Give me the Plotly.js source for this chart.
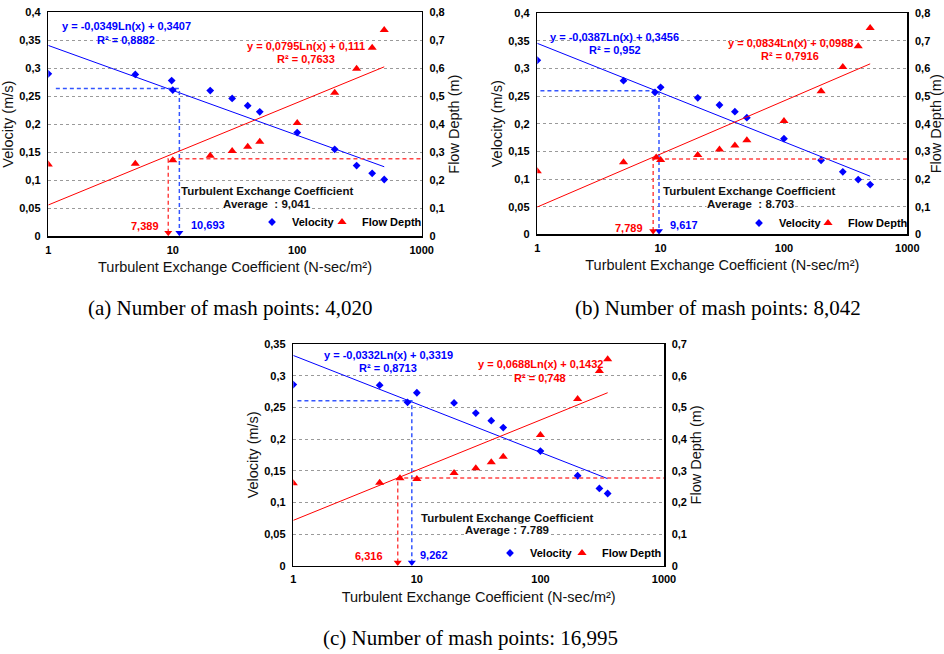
<!DOCTYPE html>
<html>
<head>
<meta charset="utf-8">
<script src="https://cdn.plot.ly/plotly-3.0.1.min.js"></script>
<style>
html,body{margin:0;padding:0;background:#fff;}
#chart{width:944px;height:654px;}
</style>
</head>
<body>
<div id="chart"></div>
<script>
// ---------- Data: panel (a) 4,020 mesh points ----------
const xA_vel = [1, 5, 9.8, 10, 20, 30, 40, 50, 100, 200, 300, 400, 500];
const velA   = [0.290, 0.289, 0.278, 0.261, 0.260, 0.246, 0.233, 0.222, 0.185, 0.155, 0.126, 0.112, 0.101];
const xA_dep = [1, 5, 10, 20, 30, 40, 50, 100, 200, 300, 400, 500];
const depA   = [0.256, 0.258, 0.271, 0.287, 0.304, 0.319, 0.337, 0.404, 0.512, 0.598, 0.673, 0.737];
const trendA_x = [1, 500];
const trendA_vel = [0.3407, 0.1238];
const trendA_dep = [0.111, 0.605];
const guideA_velX = [1.15, 11.3, 11.3];
const guideA_velY = [0.2637, 0.2637, 0.006];
const guideA_depX = [9.2, 9.2, 1000];
const guideA_depY = [0.012, 0.276, 0.276];

// ---------- Data: panel (b) 8,042 mesh points ----------
const xB_vel = [1, 5, 9, 10, 20, 30, 40, 50, 100, 200, 300, 400, 500];
const velB   = [0.315, 0.278, 0.257, 0.266, 0.247, 0.234, 0.222, 0.211, 0.173, 0.134, 0.113, 0.099, 0.090];
const xB_dep = [1, 5, 9.2, 10, 20, 30, 40, 50, 100, 200, 300, 400, 500];
const depB   = [0.228, 0.261, 0.278, 0.269, 0.287, 0.307, 0.321, 0.340, 0.410, 0.518, 0.606, 0.681, 0.747];
const trendB_x = [1, 500];
const trendB_vel = [0.3456, 0.1051];
const trendB_dep = [0.0988, 0.6171];
const guideB_velX = [1.06, 9.7, 9.7];
const guideB_velY = [0.260, 0.260, 0.006];
const guideB_depX = [8.7, 8.7, 1000];
const guideB_depY = [0.012, 0.273, 0.273];

// ---------- Data: panel (c) 16,995 mesh points ----------
const xC_vel = [1, 5, 8.4, 10, 20, 30, 40, 50, 100, 200, 300, 350];
const velC   = [0.286, 0.285, 0.258, 0.273, 0.257, 0.241, 0.229, 0.218, 0.181, 0.142, 0.122, 0.114];
const xC_dep = [1, 5, 7.3, 10, 20, 30, 40, 50, 100, 200, 300, 350];
const depC   = [0.260, 0.262, 0.276, 0.274, 0.293, 0.308, 0.327, 0.344, 0.413, 0.526, 0.615, 0.652];
const trendC_x = [1, 350];
const trendC_vel = [0.3319, 0.1374];
const trendC_dep = [0.1432, 0.5462];
const guideC_velX = [1.08, 9.1, 9.1];
const guideC_velY = [0.2605, 0.2605, 0.005];
const guideC_depX = [7.0, 7.0, 1000];
const guideC_depY = [0.010, 0.2768, 0.2768];

// ---------- Tick labels ----------
const xTickVals = [1, 10, 100, 1000];
const xTickText = ['1', '10', '100', '1000'];
const velTickVals4 = [0, 0.05, 0.1, 0.15, 0.2, 0.25, 0.3, 0.35, 0.4];
const velTickText4 = ['0', '0,05', '0,1', '0,15', '0,2', '0,25', '0,3', '0,35', '0,4'];
const depTickVals8 = [0, 0.1, 0.2, 0.3, 0.4, 0.5, 0.6, 0.7, 0.8];
const depTickText8 = ['0', '0,1', '0,2', '0,3', '0,4', '0,5', '0,6', '0,7', '0,8'];
const velTickVals35 = [0, 0.05, 0.1, 0.15, 0.2, 0.25, 0.3, 0.35];
const velTickText35 = ['0', '0,05', '0,1', '0,15', '0,2', '0,25', '0,3', '0,35'];
const depTickVals7 = [0, 0.1, 0.2, 0.3, 0.4, 0.5, 0.6, 0.7];
const depTickText7 = ['0', '0,1', '0,2', '0,3', '0,4', '0,5', '0,6', '0,7'];

// ---------- Texts ----------
const eqVel = ['y = -0,0349Ln(x) + 0,3407', 'y = -0,0387Ln(x) + 0,3456', 'y = -0,0332Ln(x) + 0,3319'];
const r2Vel = ['R² = 0,8882', 'R² = 0,952', 'R² = 0,8713'];
const eqDep = ['y = 0,0795Ln(x) + 0,111', 'y = 0,0834Ln(x) + 0,0988', 'y = 0,0688Ln(x) + 0,1432'];
const r2Dep = ['R² = 0,7633', 'R² = 0,7916', 'R² = 0,748'];
const depMark = ['7,389', '7,789', '6,316'];
const velMark = ['10,693', '9,617', '9,262'];
const avgText = ['Average  : 9,041', 'Average  : 8.703', 'Average : 7.789'];
const captions = ['(a) Number of mash points: 4,020', '(b) Number of mash points: 8,042', '(c) Number of mash points: 16,995'];

// ---------- Layout helpers (pixel positions) ----------
const W = 944, H = 654;
const px = v => v / W;
const py = v => 1 - v / H;
const BLUE = '#0000ff', RED = '#ff0000';
const FONT = 'Liberation Sans, Arial, sans-serif';

// panel boxes: left, right, top, bottom (px)
const boxes = [
  {l: 48.3, r: 421.7, t: 12.3, b: 236.0},
  {l: 537.3, r: 907.3, t: 13.3, b: 234.3},
  {l: 293.3, r: 664.0, t: 344.0, b: 565.7}
];

const panels = [
  {xv: xA_vel, v: velA, xd: xA_dep, d: depA, tx: trendA_x, tv: trendA_vel, td: trendA_dep,
   gvx: guideA_velX, gvy: guideA_velY, gdx: guideA_depX, gdy: guideA_depY},
  {xv: xB_vel, v: velB, xd: xB_dep, d: depB, tx: trendB_x, tv: trendB_vel, td: trendB_dep,
   gvx: guideB_velX, gvy: guideB_velY, gdx: guideB_depX, gdy: guideB_depY},
  {xv: xC_vel, v: velC, xd: xC_dep, d: depC, tx: trendC_x, tv: trendC_vel, td: trendC_dep,
   gvx: guideC_velX, gvy: guideC_velY, gdx: guideC_depX, gdy: guideC_depY}
];

const traces = [];
panels.forEach((p, i) => {
  const xa = i === 0 ? 'x' : 'x' + (i + 1);
  const yl = i === 0 ? 'y' : 'y' + (2 * i + 1);
  const yr = 'y' + (2 * i + 2);
  const lgV = i === 0 ? 'legend' : 'legend' + (2 * i + 1);
  const lgD = 'legend' + (2 * i + 2);
  // trend lines
  traces.push({x: p.tx, y: p.tv, xaxis: xa, yaxis: yl, mode: 'lines', showlegend: false,
    line: {color: BLUE, width: 1}, hoverinfo: 'skip'});
  traces.push({x: p.tx, y: p.td, xaxis: xa, yaxis: yr, mode: 'lines', showlegend: false,
    line: {color: RED, width: 1}, hoverinfo: 'skip'});
  // dashed guide lines
  traces.push({x: p.gvx, y: p.gvy, xaxis: xa, yaxis: yl, mode: 'lines', showlegend: false,
    line: {color: '#3355ff', width: 1.5, dash: '4px,3px'}, hoverinfo: 'skip'});
  traces.push({x: p.gdx, y: p.gdy, xaxis: xa, yaxis: yr, mode: 'lines', showlegend: false,
    line: {color: '#ff4444', width: 1.5, dash: '4px,3px'}, hoverinfo: 'skip'});
  // arrow heads
  traces.push({x: [p.gvx[2]], y: [p.gvy[2]], xaxis: xa, yaxis: yl, mode: 'markers', showlegend: false,
    marker: {symbol: 'triangle-down', size: 7, color: BLUE}, hoverinfo: 'skip'});
  traces.push({x: [p.gdx[0]], y: [p.gdy[0]], xaxis: xa, yaxis: yr, mode: 'markers', showlegend: false,
    marker: {symbol: 'triangle-down', size: 7, color: RED}, hoverinfo: 'skip'});
  // data
  traces.push({x: p.xv, y: p.v, xaxis: xa, yaxis: yl, mode: 'markers', name: 'Velocity', legend: lgV,
    marker: {symbol: 'diamond', size: 6, color: BLUE}});
  traces.push({x: p.xd, y: p.d, xaxis: xa, yaxis: yr, mode: 'markers', name: 'Flow Depth', legend: lgD,
    marker: {symbol: 'triangle-up', size: 8, color: RED}});
});

const tickFont = {family: FONT, size: 11, color: '#000', weight: 'bold'};
const titleFont = {family: FONT, size: 14.5, color: '#111'};

const layout = {
  width: W, height: H,
  margin: {l: 0, r: 0, t: 0, b: 0},
  paper_bgcolor: '#fff', plot_bgcolor: '#fff',
  showlegend: true,
  font: {family: FONT},
  annotations: [],
  shapes: []
};

const rangesV = [[0, 0.4], [0, 0.4], [0, 0.35]];
const rangesD = [[0, 0.8], [0, 0.8], [0, 0.7]];
const vTicks = [[velTickVals4, velTickText4], [velTickVals4, velTickText4], [velTickVals35, velTickText35]];
const dTicks = [[depTickVals8, depTickText8], [depTickVals8, depTickText8], [depTickVals7, depTickText7]];

boxes.forEach((bx, i) => {
  const xk = i === 0 ? 'xaxis' : 'xaxis' + (i + 1);
  const ylk = i === 0 ? 'yaxis' : 'yaxis' + (2 * i + 1);
  const yrk = 'yaxis' + (2 * i + 2);
  const xa = i === 0 ? 'x' : 'x' + (i + 1);
  const yl = i === 0 ? 'y' : 'y' + (2 * i + 1);
  const dom = [py(bx.b), py(bx.t)];
  layout[xk] = {
    type: 'log', range: [0, 3], domain: [px(bx.l), px(bx.r)], anchor: yl,
    tickvals: xTickVals, ticktext: xTickText, ticks: '', showgrid: false, zeroline: false,
    showline: true, linecolor: '#000', linewidth: 1.5, mirror: true,
    tickfont: tickFont, ticklabelstandoff: 3,
    title: {text: 'Turbulent Exchange Coefficient (N-sec/m²)', font: titleFont, standoff: 7}
  };
  layout[ylk] = {
    range: rangesV[i], domain: dom, anchor: xa,
    tickvals: vTicks[i][0], ticktext: vTicks[i][1], ticks: '',
    showgrid: true, gridcolor: '#9a9a9a', griddash: '3px,3px', gridwidth: 1, zeroline: false,
    showline: true, linecolor: '#000', linewidth: 1.5,
    tickfont: tickFont, ticklabelstandoff: 4,
    title: {text: 'Velocity (m/s)', font: titleFont, standoff: 2}
  };
  layout[yrk] = {
    range: rangesD[i], domain: dom, anchor: xa, overlaying: yl, side: 'right',
    tickvals: dTicks[i][0], ticktext: dTicks[i][1], ticks: '',
    showgrid: false, zeroline: false, showline: true, linecolor: '#000', linewidth: 1.5,
    tickfont: tickFont, ticklabelstandoff: 4,
    title: {text: 'Flow Depth (m)', font: titleFont, standoff: 1}
  };
});

// legends: one per series per panel (left edge px, centre y px)
const legPos = [[252, 222], [322, 222], [739, 223], [808, 223], [490, 553], [562, 553]];
legPos.forEach((lp, i) => {
  const key = i === 0 ? 'legend' : 'legend' + (i + 1);
  layout[key] = {
    x: px(lp[0]), y: py(lp[1]), xanchor: 'left', yanchor: 'middle',
    orientation: 'h', bgcolor: 'rgba(0,0,0,0)', borderwidth: 0,
    font: {family: FONT, size: 11, color: '#000', weight: 'bold'},
    itemwidth: 30
  };
});

function ann(text, x, y, color, size, opts) {
  layout.annotations.push(Object.assign({
    text: text, x: px(x), y: py(y), xref: 'paper', yref: 'paper',
    xanchor: 'center', yanchor: 'middle', showarrow: false,
    font: {family: FONT, size: size, color: color, weight: 'bold'}
  }, opts || {}));
}

const eqPos = [
  {ev: [126.5, 26], rv: [126, 40], ed: [306, 46], rd: [306, 59], dm: [145, 226], vm: [208, 225], tec: [267, 191], avg: [267, 204]},
  {ev: [614.5, 36.7], rv: [615, 50], ed: [790, 42.7], rd: [790, 56], dm: [628.7, 228], vm: [683.7, 225], tec: [749.3, 191.3], avg: [750, 203.7]},
  {ev: [388, 354.7], rv: [388, 368.3], ed: [540, 364], rd: [540, 377.7], dm: [369.3, 556], vm: [434, 555.3], tec: [507.3, 517.7], avg: [507.3, 530.3]}
];
eqPos.forEach((e, i) => {
  ann(eqVel[i], e.ev[0], e.ev[1], BLUE, 11);
  ann(r2Vel[i], e.rv[0], e.rv[1], BLUE, 11);
  ann(eqDep[i], e.ed[0], e.ed[1], RED, 11);
  ann(r2Dep[i], e.rd[0], e.rd[1], RED, 11);
  ann(depMark[i], e.dm[0], e.dm[1], RED, 11);
  ann(velMark[i], e.vm[0], e.vm[1], BLUE, 11);
  ann('Turbulent Exchange Coefficient', e.tec[0], e.tec[1], '#111', 11.5, {bgcolor: '#fff', borderpad: 0});
  ann(avgText[i], e.avg[0], e.avg[1], '#111', 11.5, {bgcolor: '#fff', borderpad: 0});
});

// captions
const capPos = [[230, 308], [718, 308], [470, 638]];
capPos.forEach((c, i) => {
  layout.annotations.push({
    text: captions[i], x: px(c[0]), y: py(c[1]), xref: 'paper', yref: 'paper',
    xanchor: 'center', yanchor: 'middle', showarrow: false,
    font: {family: 'Liberation Serif, Times New Roman, serif', size: 21, color: '#000'}
  });
});

Plotly.newPlot('chart', traces, layout, {staticPlot: true, displayModeBar: false});
</script>
</body>
</html>
